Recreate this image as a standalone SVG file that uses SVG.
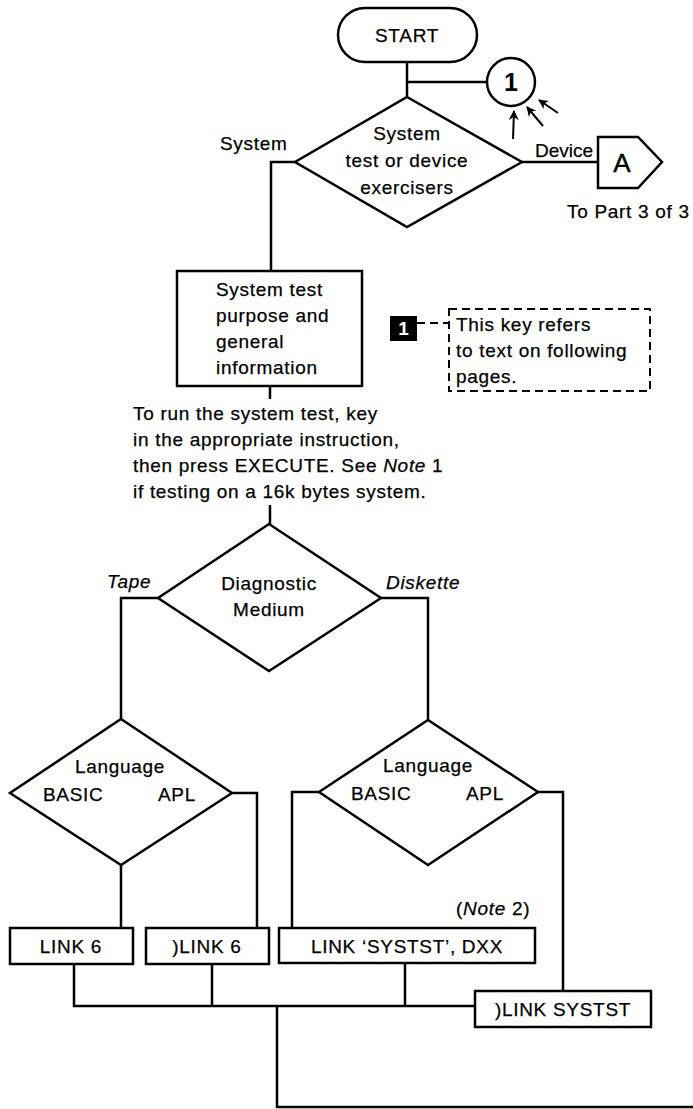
<svg xmlns="http://www.w3.org/2000/svg" width="693" height="1109" viewBox="0 0 693 1109">
<defs>
<style>
.s{fill:none;stroke:#000;stroke-width:2.5;stroke-linejoin:miter}
.b{fill:#fff;stroke:#000;stroke-width:2.5}
.t{font-family:"Liberation Sans",Arial,sans-serif;font-size:19px;letter-spacing:0.7px;fill:#000;stroke:#000;stroke-width:0.25}
.c{text-anchor:middle}
.i{font-style:italic}
.d{fill:none;stroke:#000;stroke-width:2;stroke-dasharray:8 5}
</style>
<marker id="ah" viewBox="0 0 10 10" refX="9" refY="5" markerWidth="10" markerHeight="10" orient="auto" markerUnits="userSpaceOnUse">
<path d="M0,0 L10,5 L0,10 L3,5 z" fill="#000"/>
</marker>
</defs>
<rect width="693" height="1109" fill="#fff"/>

<g id="connectors">
<path class="s" d="M407,62 V97"/>
<path class="s" d="M407,82 H487"/>
<path class="s" d="M295,162 H271 V271"/>
<path class="s" d="M522,162 H598"/>
<path class="s" d="M270,386 V399"/>
<path class="s" d="M270,505 V524"/>
<path class="s" d="M158,598 H121 V719"/>
<path class="s" d="M381,598 H428 V720"/>
<path class="s" d="M121,865 V928"/>
<path class="s" d="M232,793 H257 V928"/>
<path class="s" d="M319,792 H292 V928"/>
<path class="s" d="M538,792 H563 V991"/>
<path class="s" d="M74,964 V1006 H475"/>
<path class="s" d="M212,964 V1006"/>
<path class="s" d="M405,963 V1006"/>
<path class="s" d="M277,1006 V1107 H693"/>
<path class="d" d="M417,323 H449"/>
<g stroke="#000" stroke-width="2" fill="none">
<line x1="513" y1="139" x2="514" y2="111" marker-end="url(#ah)"/>
<line x1="543" y1="126" x2="527" y2="107" marker-end="url(#ah)"/>
<line x1="558" y1="113" x2="539" y2="100" marker-end="url(#ah)"/>
</g>
</g>

<g id="start">
<rect class="b" x="338" y="8" width="139" height="54" rx="27"/>
<text class="t c" x="407" y="42">START</text>
</g>

<g id="connector1">
<circle class="b" cx="511" cy="82" r="24"/>
<text x="511" y="91" text-anchor="middle" font-family="Liberation Sans,Arial,sans-serif" font-size="25" font-weight="bold">1</text>
</g>

<g id="decision1">
<polygon class="b" points="407,97 522,162 407,227 295,162"/>
<text class="t c" x="407" y="140">System</text>
<text class="t c" x="407" y="167">test or device</text>
<text class="t c" x="407" y="194">exercisers</text>
<text class="t" x="220" y="150">System</text>
<text class="t" x="535" y="157" style="letter-spacing:0">Device</text>
</g>

<g id="offpageA">
<polygon class="b" points="598,137 638,137 662,162 638,188 598,188"/>
<text x="622" y="172" text-anchor="middle" font-family="Liberation Sans,Arial,sans-serif" font-size="26" stroke="#000" stroke-width="0.4">A</text>
<text class="t" x="567" y="218">To Part 3 of 3</text>
</g>

<g id="info">
<rect class="b" x="177" y="271" width="185" height="115"/>
<text class="t" x="216" y="296">System test</text>
<text class="t" x="216" y="322">purpose and</text>
<text class="t" x="216" y="348">general</text>
<text class="t" x="216" y="374">information</text>
</g>

<g id="key">
<rect x="390" y="316" width="27" height="25" fill="#000"/>
<text x="403.5" y="335" text-anchor="middle" font-family="Liberation Sans,Arial,sans-serif" font-size="19" font-weight="bold" fill="#fff">1</text>
<rect class="d" x="449" y="309" width="201" height="82"/>
<text class="t" x="456" y="331">This key refers</text>
<text class="t" x="456" y="357">to text on following</text>
<text class="t" x="456" y="383">pages.</text>
</g>

<g id="instructions">
<text class="t" x="133" y="420">To run the system test, key</text>
<text class="t" x="133" y="446">in the appropriate instruction,</text>
<text class="t" x="133" y="472">then press EXECUTE. See <tspan class="i">Note</tspan> 1</text>
<text class="t" x="133" y="498">if testing on a 16k bytes system.</text>
</g>

<g id="decision2">
<polygon class="b" points="269,524 381,598 269,671 158,598"/>
<text class="t c" x="269" y="590">Diagnostic</text>
<text class="t c" x="269" y="616">Medium</text>
<text class="t i" x="107" y="588">Tape</text>
<text class="t i" x="386" y="589">Diskette</text>
</g>

<g id="language-tape">
<polygon class="b" points="121,719 232,793 121,865 10,793"/>
<text class="t c" x="120" y="773">Language</text>
<text class="t" x="43" y="801">BASIC</text>
<text class="t" x="158" y="801">APL</text>
</g>

<g id="language-diskette">
<polygon class="b" points="428,720 538,792 428,865 319,792"/>
<text class="t c" x="428" y="772">Language</text>
<text class="t" x="351" y="800">BASIC</text>
<text class="t" x="466" y="800">APL</text>
<text class="t" x="456" y="915">(<tspan class="i">Note</tspan> 2)</text>
</g>

<g id="link6">
<rect class="b" x="10" y="928" width="123" height="36"/>
<text class="t c" x="71" y="953">LINK 6</text>
</g>
<g id="aplink6">
<rect class="b" x="146" y="928" width="123" height="36"/>
<text class="t c" x="207" y="953">)LINK 6</text>
</g>
<g id="linksystst-dxx">
<rect class="b" x="279" y="928" width="256" height="35"/>
<text class="t c" x="407" y="953">LINK ‘SYSTST’, DXX</text>
</g>
<g id="aplinksystst">
<rect class="b" x="475" y="991" width="176" height="36"/>
<text class="t c" x="563" y="1016">)LINK SYSTST</text>
</g>
</svg>
